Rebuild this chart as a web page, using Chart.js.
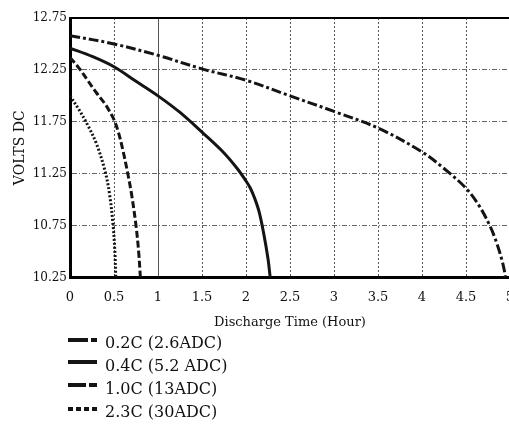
<!DOCTYPE html>
<html>
<head>
<meta charset="utf-8">
<script src="https://cdn.jsdelivr.net/npm/chart.js@4"></script>
<style>
  html, body { margin:0; padding:0; background:#fff; overflow:hidden; width:509px; height:424px; }
  #wrap { position:relative; width:514px; height:424px; }
  canvas { position:absolute; left:0; top:0; }
  .leg { position:absolute; left:0; font-family:"DejaVu Serif", serif; font-size:16px; color:#111; line-height:20px; white-space:nowrap; }
  .leg svg { position:absolute; left:66px; top:0; }
  .leg span { position:absolute; left:105px; top:0; }
</style>
</head>
<body>
<div id="wrap">
  <canvas id="c" width="514" height="424"></canvas>
  <div id="legend"></div>
</div>
<script>
// ---- data ----
const seriesLabels = ["0.2C (2.6ADC)", "0.4C (5.2 ADC)", "1.0C (13ADC)", "2.3C (30ADC)"];

const t02 = [0, 0.5, 1, 1.5, 2, 2.5, 3, 3.5, 4, 4.25, 4.5, 4.65, 4.77, 4.85, 4.92, 4.95];
const v02 = [12.58, 12.50, 12.39, 12.26, 12.15, 12.00, 11.85, 11.69, 11.46, 11.30, 11.11, 10.94, 10.75, 10.58, 10.38, 10.25];

const t04 = [0, 0.25, 0.5, 0.75, 1, 1.25, 1.5, 1.75, 1.9, 2.0, 2.05, 2.1, 2.15, 2.2, 2.25, 2.275];
const v04 = [12.46, 12.38, 12.28, 12.14, 12.00, 11.84, 11.65, 11.45, 11.30, 11.18, 11.11, 11.01, 10.88, 10.68, 10.43, 10.25];

const t10 = [0, 0.1, 0.2, 0.3, 0.4, 0.45, 0.5, 0.55, 0.6, 0.65, 0.7, 0.75, 0.78, 0.8];
const v10 = [12.37, 12.27, 12.15, 12.03, 11.92, 11.85, 11.77, 11.65, 11.48, 11.28, 11.05, 10.75, 10.50, 10.25];

const t23 = [0, 0.1, 0.2, 0.3, 0.4, 0.45, 0.49, 0.51, 0.52];
const v23 = [12.00, 11.87, 11.72, 11.54, 11.27, 11.05, 10.75, 10.50, 10.25];

const xTicks = [0, 0.5, 1, 1.5, 2, 2.5, 3, 3.5, 4, 4.5, 5];
const yTicks = [10.25, 10.75, 11.25, 11.75, 12.25, 12.75];

const xTitle = "Discharge Time (Hour)";
const yTitle = "VOLTS DC";

// ---- styles ----
const ink = "#141414";
const dashes = [[10, 3, 3, 3], [], [7, 3], [2, 2]];
const legendDashes = ["20 3 7", "", "18 3 10", "5 3"];

function pts(t, v) { return t.map((x, i) => ({ x: x, y: v[i] })); }

const allT = [t02, t04, t10, t23];
const allV = [v02, v04, v10, v23];

const datasets = seriesLabels.map((lab, i) => ({
  label: lab,
  data: pts(allT[i], allV[i]),
  borderColor: ink,
  borderWidth: 3,
  borderDash: dashes[i],
  borderCapStyle: "butt",
  pointRadius: 0,
  fill: false,
  tension: 0.35
}));

const frame = {
  id: "frame",
  afterDatasetsDraw(chart) {
    const a = chart.chartArea, ctx = chart.ctx;
    ctx.save();
    ctx.strokeStyle = "#000";
    ctx.lineWidth = 2;
    ctx.beginPath();
    ctx.moveTo(a.left - 1, a.top);
    ctx.lineTo(a.right + 2, a.top);
    ctx.stroke();
    ctx.restore();
  }
};

new Chart(document.getElementById("c"), {
  type: "line",
  data: { datasets },
  plugins: [frame],
  options: {
    responsive: false,
    animation: false,
    layout: { padding: { left: 8, right: 4, top: 18, bottom: 0 } },
    plugins: { legend: { display: false }, tooltip: { enabled: false } },
    scales: {
      x: {
        type: "linear",
        min: xTicks[0],
        max: xTicks[xTicks.length - 1],
        afterFit(s) { s.height = 424 - 18 - 259.5; s.paddingRight = 0; s.paddingLeft = 0; },
        afterBuildTicks(s) { s.ticks = xTicks.map(v => ({ value: v })); },
        ticks: {
          padding: 12,
          color: "#111",
          font: { family: "DejaVu Serif", size: 13 },
          callback: v => String(v)
        },
        grid: { color: "#555", lineWidth: 1, drawTicks: false },
        border: {
          color: "#000", width: 3,
          dash: ctx => (ctx.tick && ctx.tick.value === 1) ? [] : [2, 2]
        },
        title: {
          display: true, text: xTitle, color: "#111",
          font: { family: "DejaVu Serif", size: 13 },
          padding: { top: 0, bottom: 94 }
        }
      },
      y: {
        type: "linear",
        min: yTicks[0],
        max: yTicks[yTicks.length - 1],
        afterFit(s) { s.width = 62; },
        afterBuildTicks(s) { s.ticks = yTicks.map(v => ({ value: v })); },
        ticks: {
          padding: 3,
          color: "#111",
          font: { family: "DejaVu Serif", size: 12 },
          callback: v => Number(v).toFixed(2)
        },
        grid: { color: "#666", lineWidth: 1, drawTicks: false },
        border: { color: "#000", width: 3, dash: [5, 2, 1, 2] },
        title: {
          display: true, text: yTitle, color: "#111",
          font: { family: "DejaVu Serif", size: 14 },
          padding: { top: 4, bottom: 0 }
        }
      }
    }
  }
});

// ---- legend (vertical list under the chart) ----
const legendCenters = [343, 366, 389, 412];
const symCenters = [340, 362, 385, 409];
const leg = document.getElementById("legend");
seriesLabels.forEach((lab, i) => {
  const d = document.createElement("div");
  d.className = "leg";
  d.style.top = (legendCenters[i] - 10) + "px";
  const sy = symCenters[i] - legendCenters[i] + 10;
  d.innerHTML = '<svg width="34" height="20" style="overflow:visible"><line x1="2" y1="' + sy + '" x2="31" y2="' + sy +
    '" stroke="' + ink + '" stroke-width="4"' + (legendDashes[i] ? ' stroke-dasharray="' + legendDashes[i] + '"' : '') +
    '/></svg><span>' + lab + '</span>';
  leg.appendChild(d);
});
</script>
</body>
</html>
